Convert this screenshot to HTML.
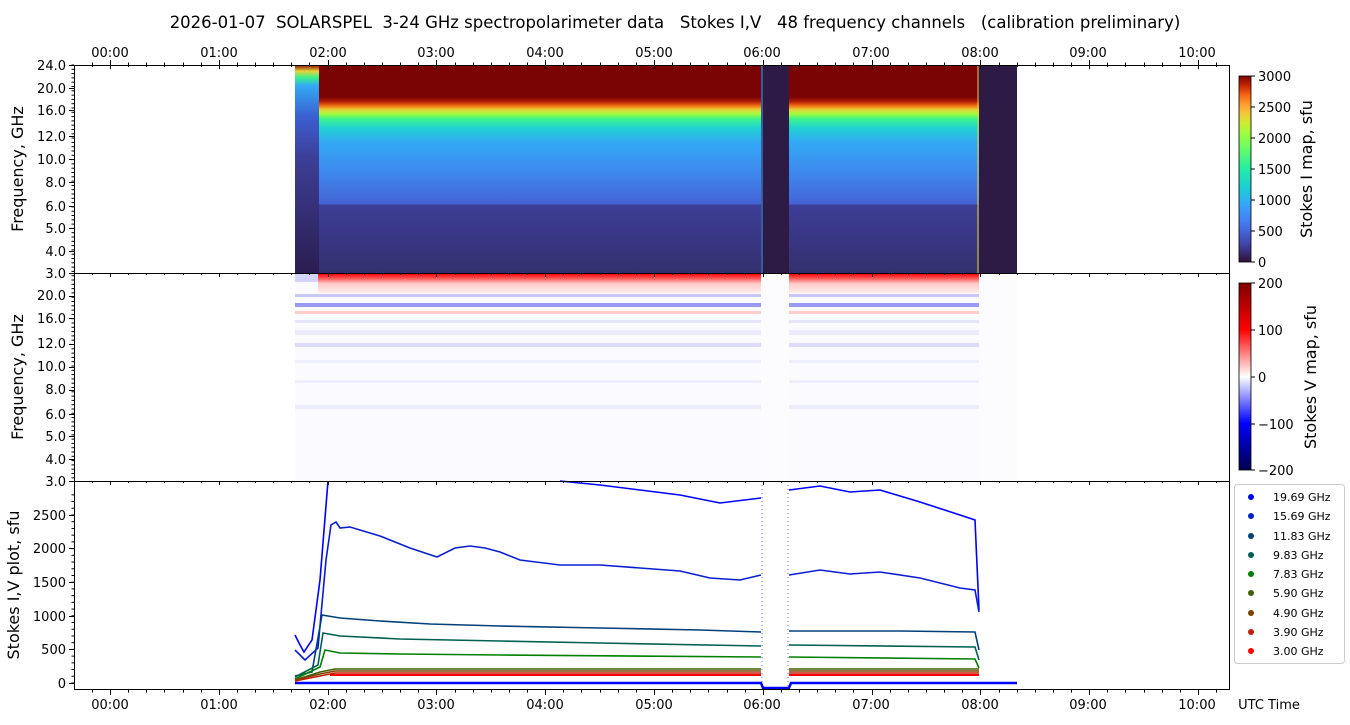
<!DOCTYPE html>
<html><head><meta charset="utf-8"><style>
body{margin:0;background:#fff;}
svg{display:block;font-family:"DejaVu Sans","Liberation Sans",sans-serif;}
.pre{white-space:pre;}
</style></head><body>
<svg id="s" width="1350" height="725" xmlns="http://www.w3.org/2000/svg">
<defs>
<linearGradient id="gI" x1="0" y1="65" x2="0" y2="273" gradientUnits="userSpaceOnUse">
<stop offset="0" stop-color="#7a0403"/>
<stop offset="0.155" stop-color="#7a0403"/>
<stop offset="0.175" stop-color="#b01c03"/>
<stop offset="0.195" stop-color="#f26b15"/>
<stop offset="0.215" stop-color="#e6d43a"/>
<stop offset="0.235" stop-color="#a4fc3c"/>
<stop offset="0.26" stop-color="#3bf28c"/>
<stop offset="0.3" stop-color="#1fd4cf"/>
<stop offset="0.37" stop-color="#32a9f5"/>
<stop offset="0.52" stop-color="#3f88ee"/>
<stop offset="0.67" stop-color="#4464d4"/>
<stop offset="0.67" stop-color="#3d3e96"/>
<stop offset="1" stop-color="#34306f"/>
</linearGradient>
<linearGradient id="gL" x1="0" y1="65" x2="0" y2="273" gradientUnits="userSpaceOnUse">
<stop offset="0" stop-color="#8f0a00"/>
<stop offset="0.03" stop-color="#e6d43a"/>
<stop offset="0.06" stop-color="#3bf28c"/>
<stop offset="0.1" stop-color="#32a9f5"/>
<stop offset="0.25" stop-color="#3b5ed0"/>
<stop offset="0.45" stop-color="#3d3e96"/>
<stop offset="1" stop-color="#2a1d50"/>
</linearGradient>
<linearGradient id="cI" x1="0" y1="1" x2="0" y2="0">
<stop offset="0" stop-color="#30123b"/><stop offset="0.1" stop-color="#4145ab"/>
<stop offset="0.2" stop-color="#4675ed"/><stop offset="0.3" stop-color="#39a2fc"/>
<stop offset="0.4" stop-color="#1bcfd4"/><stop offset="0.5" stop-color="#24eca6"/>
<stop offset="0.6" stop-color="#61fc6c"/><stop offset="0.7" stop-color="#a4fc3b"/>
<stop offset="0.75" stop-color="#d1e834"/><stop offset="0.8" stop-color="#f3c63a"/>
<stop offset="0.85" stop-color="#fe9b2d"/><stop offset="0.9" stop-color="#f36315"/>
<stop offset="0.95" stop-color="#c42503"/><stop offset="1" stop-color="#7a0403"/>
</linearGradient>
<linearGradient id="cV" x1="0" y1="1" x2="0" y2="0">
<stop offset="0" stop-color="#00004c"/><stop offset="0.25" stop-color="#0000ff"/>
<stop offset="0.5" stop-color="#ffffff"/><stop offset="0.75" stop-color="#ff0000"/>
<stop offset="1" stop-color="#800000"/>
</linearGradient>
<linearGradient id="redF" x1="0" y1="274" x2="0" y2="293" gradientUnits="userSpaceOnUse">
<stop offset="0" stop-color="#ff0808"/><stop offset="0.25" stop-color="#ff6060"/>
<stop offset="0.5" stop-color="#ffc8c8"/><stop offset="1" stop-color="#ffeeee"/>
</linearGradient>
</defs>
<text class="pre" x="675" y="28" font-size="16.5" text-anchor="middle" fill="#000" xml:space="preserve">2026-01-07  SOLARSPEL  3-24 GHz spectropolarimeter data   Stokes I,V   48 frequency channels   (calibration preliminary)</text>

<!-- Panel 1 -->
<rect x="318" y="65" width="443" height="208" fill="url(#gI)"/>
<rect x="789" y="65" width="190" height="208" fill="url(#gI)"/>
<rect x="295" y="65" width="24" height="208" fill="url(#gL)"/>
<rect x="761" y="65" width="28" height="208" fill="#2d1a45"/>
<rect x="979" y="65" width="38" height="208" fill="#2d1a45"/>
<rect x="761" y="65" width="2" height="208" fill="#39a2fc" opacity="0.5"/>
<rect x="977" y="65" width="2" height="208" fill="#e6d43a" opacity="0.5"/>

<!-- Panel 2 -->
<rect x="295" y="274" width="466" height="207" fill="#fafaff"/>
<rect x="789" y="274" width="190" height="207" fill="#fafaff"/>
<rect x="979" y="274" width="38" height="207" fill="#fcfcff"/>
<g>
<rect x="318" y="274" width="443" height="19" fill="url(#redF)"/>
<rect x="789" y="274" width="190" height="19" fill="url(#redF)"/>
<rect x="295" y="294" width="684" height="3" fill="#c8c8f6"/>
<rect x="295" y="303" width="684" height="4" fill="#9a9af2"/>
<rect x="295" y="311" width="684" height="3" fill="#ffcccc"/>
<rect x="295" y="320" width="684" height="3" fill="#e6e6fb"/>
<rect x="295" y="330" width="684" height="5" fill="#ebebfc"/>
<rect x="295" y="343" width="684" height="4" fill="#dcdcf9"/>
<rect x="295" y="360" width="684" height="3" fill="#eeeefc"/>
<rect x="295" y="380" width="684" height="3" fill="#eeeefc"/>
<rect x="295" y="405" width="684" height="4" fill="#ececfc"/>
<rect x="761" y="274" width="28" height="207" fill="#fcfcff"/>
<rect x="295" y="274" width="23" height="8" fill="#d4d4f8"/>
</g>

<!-- Panel 3 lines -->
<g fill="none" stroke-width="1.6">
<polyline stroke="#0000ff" points="295,635 300,645 304,652 312,640 320,580 328,481"/>
<polyline stroke="#0000ff" points="560,481 600,485 640,490 680,495 720,503 761,498"/>
<polyline stroke="#0000ff" points="789,490 820,486 850,492 880,490 920,502 960,515 975,520 979,610"/>
<polyline stroke="#0a1ed0" points="295,650 305,660 318,648 326,560 331,525 336,522 340,528 350,527 380,536 410,548 437,557 455,548 470,546 485,548 500,552 520,560 560,565 600,565 640,568 680,571 710,578 740,580 761,575"/>
<polyline stroke="#0a1ed0" points="789,575 820,570 850,574 880,572 920,578 960,588 975,590 979,612"/>
<polyline stroke="#00407a" points="295,676 312,672 322,615 340,618 380,621 430,624 500,626 600,628 700,630 761,632"/>
<polyline stroke="#00407a" points="789,631 900,631 975,632 979,650"/>
<polyline stroke="#006050" points="295,677 318,665 323,633 340,636 400,639 500,641 600,643 761,646"/>
<polyline stroke="#006050" points="789,645 975,647 979,660"/>
<polyline stroke="#008000" points="295,679 320,667 325,650 340,653 400,654 500,655 761,657"/>
<polyline stroke="#008000" points="789,657 975,659 979,668"/>
<polyline stroke="#406000" points="295,680 320,672 335,669 761,669"/>
<polyline stroke="#406000" points="789,669 979,669"/>
<polyline stroke="#804000" points="295,680 320,674 335,671 761,671"/>
<polyline stroke="#804000" points="789,671 979,671"/>
<polyline stroke="#c02000" points="295,681 320,676 335,673 761,673"/>
<polyline stroke="#c02000" points="789,673 979,673"/>
<polyline stroke="#ff0000" stroke-width="2" points="330,675 761,675"/>
<polyline stroke="#ff0000" stroke-width="2" points="789,675 979,675"/>
<polyline stroke="#0000ff" stroke-width="2.5" points="295,683 761,683 763,688 789,688 791,683 1017,683"/>
<line x1="762" y1="481" x2="762" y2="690" stroke="#0000ff" stroke-width="0.6" stroke-dasharray="1 3"/>
<line x1="788" y1="481" x2="788" y2="690" stroke="#0000ff" stroke-width="0.6" stroke-dasharray="1 3"/>
</g>

<!-- Frames -->
<g fill="none" stroke="#000" stroke-width="1">
<rect x="74.5" y="65.5" width="1155" height="208"/>
<rect x="74.5" y="273.5" width="1155" height="208"/>
<rect x="74.5" y="481.5" width="1155" height="208"/>
</g>
<g id="ticks" stroke="#000" stroke-width="1"></g>

<!-- time labels -->
<g font-size="13" text-anchor="middle" fill="#000">
<text x="110" y="57">00:00</text><text x="219" y="57">01:00</text><text x="328" y="57">02:00</text><text x="436" y="57">03:00</text><text x="545" y="57">04:00</text><text x="654" y="57">05:00</text><text x="762" y="57">06:00</text><text x="871" y="57">07:00</text><text x="980" y="57">08:00</text><text x="1088" y="57">09:00</text><text x="1197" y="57">10:00</text>
<text x="110" y="709">00:00</text><text x="219" y="709">01:00</text><text x="328" y="709">02:00</text><text x="436" y="709">03:00</text><text x="545" y="709">04:00</text><text x="654" y="709">05:00</text><text x="762" y="709">06:00</text><text x="871" y="709">07:00</text><text x="980" y="709">08:00</text><text x="1088" y="709">09:00</text><text x="1197" y="709">10:00</text>
<text x="1269" y="709">UTC Time</text>
</g>
<!-- freq labels -->
<g font-size="13" text-anchor="end" fill="#000">
<text x="66" y="70">24.0</text><text x="66" y="93">20.0</text><text x="66" y="115">16.0</text><text x="66" y="141">12.0</text><text x="66" y="164">10.0</text><text x="66" y="187">8.0</text><text x="66" y="211">6.0</text><text x="66" y="233">5.0</text><text x="66" y="256">4.0</text><text x="66" y="278">3.0</text>
<text x="66" y="300">20.0</text><text x="66" y="323">16.0</text><text x="66" y="348">12.0</text><text x="66" y="371">10.0</text><text x="66" y="394">8.0</text><text x="66" y="419">6.0</text><text x="66" y="441">5.0</text><text x="66" y="464">4.0</text><text x="66" y="486">3.0</text>
<text x="66" y="520">2500</text><text x="66" y="553">2000</text><text x="66" y="587">1500</text><text x="66" y="621">1000</text><text x="66" y="654">500</text><text x="66" y="688">0</text>
</g>
<g font-size="16" text-anchor="middle" fill="#000">
<text transform="translate(23,169) rotate(-90)">Frequency, GHz</text>
<text transform="translate(23,377) rotate(-90)">Frequency, GHz</text>
<text transform="translate(19,585) rotate(-90)">Stokes I,V plot, sfu</text>
<text transform="translate(1312,169) rotate(-90)">Stokes I map, sfu</text>
<text transform="translate(1316,377) rotate(-90)">Stokes V map, sfu</text>
</g>
<!-- colorbars -->
<rect x="1239" y="76" width="12" height="186" fill="url(#cI)" stroke="#000" stroke-width="0.8"/>
<rect x="1239" y="283" width="12" height="187" fill="url(#cV)" stroke="#000" stroke-width="0.8"/>
<g stroke="#000"><line x1="1251" y1="76" x2="1255" y2="76"/><line x1="1251" y1="107" x2="1255" y2="107"/><line x1="1251" y1="138" x2="1255" y2="138"/><line x1="1251" y1="169" x2="1255" y2="169"/><line x1="1251" y1="200" x2="1255" y2="200"/><line x1="1251" y1="231" x2="1255" y2="231"/><line x1="1251" y1="262" x2="1255" y2="262"/>
<line x1="1251" y1="283" x2="1255" y2="283"/><line x1="1251" y1="330" x2="1255" y2="330"/><line x1="1251" y1="377" x2="1255" y2="377"/><line x1="1251" y1="424" x2="1255" y2="424"/><line x1="1251" y1="470" x2="1255" y2="470"/></g>
<g font-size="13" fill="#000">
<text x="1258" y="81">3000</text><text x="1258" y="112">2500</text><text x="1258" y="143">2000</text><text x="1258" y="174">1500</text><text x="1258" y="205">1000</text><text x="1258" y="236">500</text><text x="1258" y="267">0</text>
<text x="1258" y="288">200</text><text x="1258" y="335">100</text><text x="1258" y="382">0</text><text x="1258" y="429">−100</text><text x="1258" y="475">−200</text>
</g>
<!-- legend -->
<rect x="1234.5" y="484.5" width="110" height="179" rx="3" fill="#fff" stroke="#ccc"/>
<g font-size="11" fill="#000">
<circle cx="1251" cy="497" r="3" fill="#0000ff"/><text x="1273" y="501">19.69 GHz</text>
<circle cx="1251" cy="516" r="3" fill="#0022cc"/><text x="1273" y="520">15.69 GHz</text>
<circle cx="1251" cy="536" r="3" fill="#00407a"/><text x="1273" y="540">11.83 GHz</text>
<circle cx="1251" cy="555" r="3" fill="#006050"/><text x="1273" y="559">9.83 GHz</text>
<circle cx="1251" cy="574" r="3" fill="#008000"/><text x="1273" y="578">7.83 GHz</text>
<circle cx="1251" cy="593" r="3" fill="#406000"/><text x="1273" y="597">5.90 GHz</text>
<circle cx="1251" cy="613" r="3" fill="#804000"/><text x="1273" y="617">4.90 GHz</text>
<circle cx="1251" cy="632" r="3" fill="#c02000"/><text x="1273" y="636">3.90 GHz</text>
<circle cx="1251" cy="651" r="3" fill="#ff0000"/><text x="1273" y="655">3.00 GHz</text>
</g>
</svg>
<script>
var g=document.getElementById('ticks'),p='';
function L(a,b,c,d){p+='<line x1="'+a+'" y1="'+b+'" x2="'+c+'" y2="'+d+'"/>';}
for(var m=-20;m<=660;m+=10){var x=110+m*108.8/60;if(x<74||x>1229)continue;x=Math.round(x)+0.5;var maj=m%60==0,l=maj?5:2.5;
L(x,65,x,65-l);L(x,690,x,690+l);[273,481].forEach(function(y){L(x,y,x,y+(maj?4:2));});L(x,65,x,65+(maj?4:2));}
[65,88,110,136,159,182,206,228,251,273].forEach(function(y){L(74,y+.5,69,y+.5);L(74,y+208.5,69,y+208.5);});
for(var y=65;y<=481;y+=4.3){L(74,y,71.5,y);}
[515,548,582,616,649,683].forEach(function(y){L(74,y+.5,69,y+.5);});
for(var v=0;v<=2800;v+=100){var y=683-v*0.0672;L(74,y,71.5,y);}
g.innerHTML=p;
</script>
</body></html>
